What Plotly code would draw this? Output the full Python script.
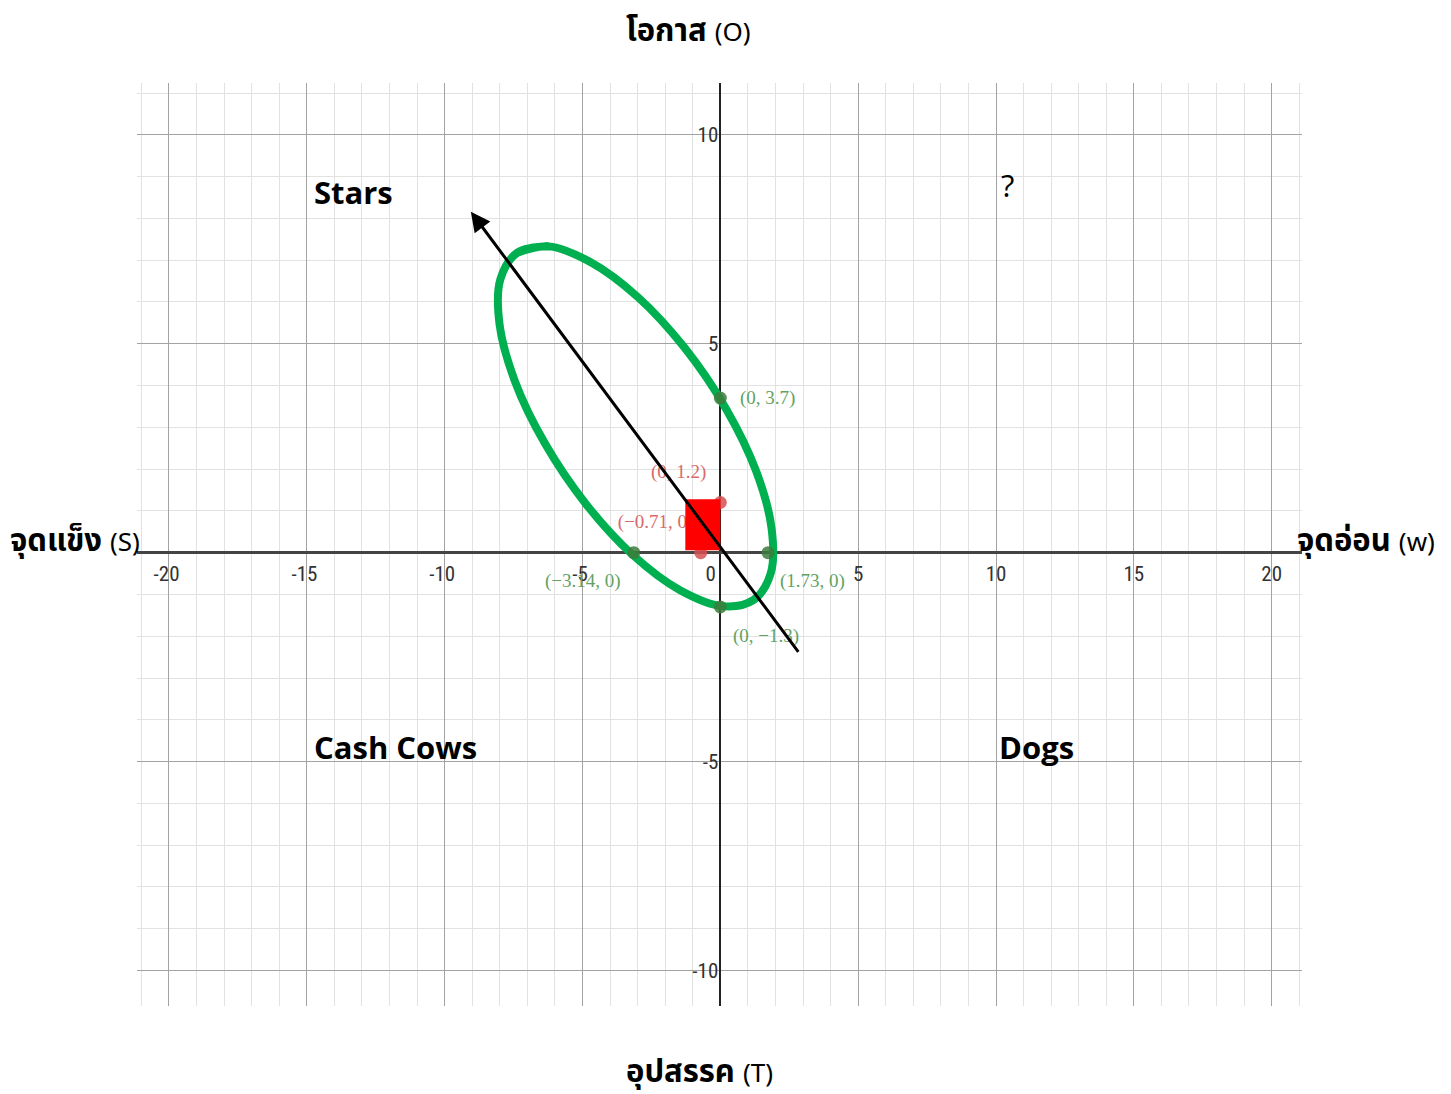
import plotly.graph_objects as go

# green ellipse outline (last two repeat the first two to close it)
ellipse_x = [-7.36, -6.22, -4.70, -2.98, -1.28, 0.21, 1.30, 1.86, 1.83, 1.21,
             0.07, -1.46, -3.17, -4.87, -6.36, -7.45, -8.01, -7.98, -7.36, -6.22]
ellipse_y = [7.18, 7.33, 6.95, 6.11, 4.89, 3.44, 1.95, 0.58, -0.49, -1.13,
             -1.28, -0.90, -0.06, 1.16, 2.61, 4.10, 5.47, 6.54, 7.18, 7.33]

# labelled points
green_x = [0, 1.73, -3.14, 0]
green_y = [3.7, 0, 0, -1.3]
green_text = ["(0, 3.7)", "(1.73, 0)", "(\u22123.14, 0)", "(0, \u22121.3)"]

red_x = [0, -0.71]
red_y = [1.2, 0]
red_text = ["(0, 1.2)", "(\u22120.71, 0)"]

# red block
square_x = [-1.27, 0, 0, -1.27, -1.27]
square_y = [0.06, 0.06, 1.28, 1.28, 0.06]

# arrow: tail then head
arrow_x = [2.87, -9.05]
arrow_y = [-2.41, 8.16]

quad_text = ["<b>Stars</b>", "<b>Cash Cows</b>", "<b>Dogs</b>", "?"]
quad_x = [-14.8, -14.8, 10.04, 10.1]
quad_y = [8.64, -4.65, -4.65, 8.8]

x_ticks = [-20, -15, -10, -5, 0, 5, 10, 15, 20]
x_ticktext = ["-20\u00a0", "-15\u00a0", "-10\u00a0", "-5\u00a0", "0\u00a0\u00a0\u00a0\u00a0", "5", "10", "15", "20"]
y_ticks = [-10, -5, 5, 10]

thai_font = "Noto Sans Thai, Noto Sans Thai UI, Loma, Tahoma, sans-serif"
label_font = "Liberation Serif, serif"

# label placement relative to its dot: (xanchor, xshift, yshift) in pixels
green_place = [("left", 18, 0), ("left", 10, -28), ("right", -11, -28), ("left", 11, -29)]
red_place = [("right", -12, 31)]

fig = go.Figure()

fig.add_trace(go.Scatter(x=ellipse_x, y=ellipse_y, mode="lines",
                         line=dict(color="#00b050", width=8, shape="spline", smoothing=1.0),
                         hoverinfo="skip"))
fig.add_trace(go.Scatter(x=green_x, y=green_y, mode="markers",
                         marker=dict(color="rgba(60,125,60,0.85)", size=13, line=dict(width=0))))
fig.add_trace(go.Scatter(x=red_x, y=red_y, mode="markers",
                         marker=dict(color="rgba(215,80,80,0.85)", size=13, line=dict(width=0))))
# the (-0.71, 0) label sits under the red block; trailing spaces push it left of its dot
fig.add_trace(go.Scatter(x=red_x[1:], y=red_y[1:], mode="markers+text",
                         text=[red_text[1] + "\u00a0" * 19], textposition="top center",
                         marker=dict(color="rgba(0,0,0,0)", size=31, line=dict(width=0)),
                         textfont=dict(family=label_font, size=19, color="#d96a6a"),
                         hoverinfo="skip"))
fig.add_trace(go.Scatter(x=square_x, y=square_y, mode="lines", fill="toself",
                         fillcolor="#ff0000", line=dict(color="#ff0000", width=0),
                         hoverinfo="skip"))

for t, px, py, (anc, dx, dy) in zip(green_text, green_x, green_y, green_place):
    fig.add_annotation(x=px, y=py, text=t, showarrow=False, xanchor=anc, yanchor="middle",
                       xshift=dx, yshift=dy,
                       font=dict(family=label_font, size=19, color="#62a262"))
for t, px, py, (anc, dx, dy) in zip(red_text[:1], red_x[:1], red_y[:1], red_place):
    fig.add_annotation(x=px, y=py, text=t, showarrow=False, xanchor=anc, yanchor="middle",
                       xshift=dx, yshift=dy,
                       font=dict(family=label_font, size=19, color="#d96a6a"))

# black arrow, drawn last so it lies over the labels and the block
fig.add_annotation(x=arrow_x[1], y=arrow_y[1], ax=arrow_x[0], ay=arrow_y[0],
                   xref="x", yref="y", axref="x", ayref="y", text="",
                   showarrow=True, arrowhead=2, arrowsize=1.3, arrowwidth=3,
                   arrowcolor="black")

for t, qx, qy in zip(quad_text, quad_x, quad_y):
    fig.add_annotation(x=qx, y=qy, text=t, showarrow=False,
                       xanchor="left", yanchor="middle",
                       font=dict(family="Open Sans, Lato, sans-serif", size=31, color="black"))


def thai_title(thai, latin):
    return "<b>%s</b> <span style='font-size:26px'>%s</span>" % (thai, latin)


titles = [
    (thai_title("โอกาส", "(O)"), 0.473, 1.056, "center"),
    (thai_title("อุปสรรค", "(T)"), 0.483, -0.072, "center"),
    (thai_title("จุดแข็ง", "(S)"), -0.1107, 0.503, "left"),
    (thai_title("จุดอ่อน", "(w)"), 0.994, 0.503, "left"),
]
for txt, px, py, anchor in titles:
    fig.add_annotation(x=px, y=py, xref="paper", yref="paper", text=txt,
                       showarrow=False, xanchor=anchor, yanchor="middle",
                       font=dict(family=thai_font, size=31, color="black"))

tick_font = dict(family="Liberation Sans Narrow, Roboto Condensed, Arial Narrow, sans-serif",
                 size=21, color="#333333")

fig.update_xaxes(range=[-21.16, 21.1], tickvals=x_ticks, ticktext=x_ticktext,
                 showgrid=True, gridcolor="#a3a3a3", gridwidth=1,
                 minor=dict(dtick=1, tick0=0, showgrid=True, gridcolor="#e2e2e2", gridwidth=1),
                 zeroline=True, zerolinecolor="#222222", zerolinewidth=2,
                 anchor="free", position=0.4912, showline=False, ticks="",
                 ticklabelstandoff=6, tickfont=tick_font, fixedrange=True)
fig.update_yaxes(range=[-10.85, 11.24], tickvals=y_ticks, ticktext=[str(v) for v in y_ticks],
                 showgrid=True, gridcolor="#a3a3a3", gridwidth=1,
                 minor=dict(dtick=1, tick0=0, showgrid=True, gridcolor="#e2e2e2", gridwidth=1),
                 zeroline=True, zerolinecolor="#444444", zerolinewidth=3,
                 anchor="free", position=0.5007, showline=False, ticks="",
                 ticklabelstandoff=2, tickfont=tick_font, fixedrange=True)

fig.update_layout(width=1451, height=1094, showlegend=False,
                  margin=dict(l=129, r=157, t=75, b=96),
                  plot_bgcolor="white", paper_bgcolor="white")

fig.write_html("out.html")
